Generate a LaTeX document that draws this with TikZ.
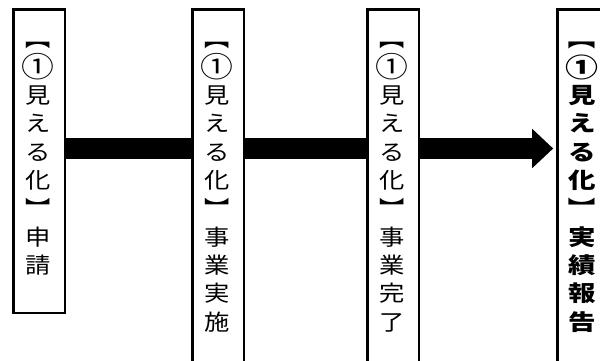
\documentclass[tikz,border=0pt]{standalone}
\usepackage{fontspec}
\usepackage{graphicx}
\newfontfamily\jp{Noto Sans CJK JP}
\usetikzlibrary{arrows.meta,backgrounds}
\newcommand{\vlb}{\rotatebox[origin=c]{-90}{【}}
\newcommand{\vrb}{\rotatebox[origin=c]{-90}{】}}
\newcommand{\cone}[1]{\raisebox{-1.8pt}{\smash{\scalebox{#1}{①}}}}
\newcommand{\vcol}[2]{\scalebox{#1}[1]{\begin{tabular}{@{}c@{}}#2\end{tabular}}}
\begin{document}
\begin{tikzpicture}[x=1pt,y=-1pt,
  box/.style={draw, line width=2.4pt, fill=white, inner sep=0pt, anchor=north west},
  vtext/.style={font=\jp\fontsize{22}{28.3}\selectfont, inner sep=0pt, anchor=north},
  flow/.style={line width=21pt, -{Triangle[length=21pt,width=38pt]}}]
\useasboundingbox (0,0) rectangle (600,360);
\begin{scope}
\clip (0,0) rectangle (600,360);
\node[box, minimum width=51.6pt, minimum height=303.6pt] (b1) at (12.2,8.2) {};
\node[box, minimum width=51.6pt, minimum height=380pt] (b2) at (191.2,8.2) {};
\node[box, minimum width=51.6pt, minimum height=380pt] (b3) at (366.2,8.2) {};
\node[box, minimum width=51.6pt, minimum height=380pt] (b4) at (556.2,8.2) {};
\coordinate (axis) at (0,148.5);
\begin{scope}[on background layer]
\draw[flow] (b1.east |- axis) -- ([xshift=-3pt]b4.west |- axis);
\end{scope}
\node[vtext] (t1) at (38,27) {\vcol{1.15}{\vlb\\\cone{1.3}\\見\\え\\る\\化\\\vrb\\申\\請}};
\node[vtext] (t2) at (216.8,27) {\vcol{1.15}{\vlb\\\cone{1.3}\\見\\え\\る\\化\\\vrb\\事\\業\\実\\施}};
\node[vtext] (t3) at (391.8,27) {\vcol{1.15}{\vlb\\\cone{1.3}\\見\\え\\る\\化\\\vrb\\事\\業\\完\\了}};
\node[vtext, font=\jp\bfseries\fontsize{22}{28.3}\selectfont] (t4) at (582,27) {\vcol{1.25}{\vlb\\\cone{1.2}\\見\\え\\る\\化\\\vrb\\実\\績\\報\\告}};
\end{scope}
\end{tikzpicture}
\end{document}
